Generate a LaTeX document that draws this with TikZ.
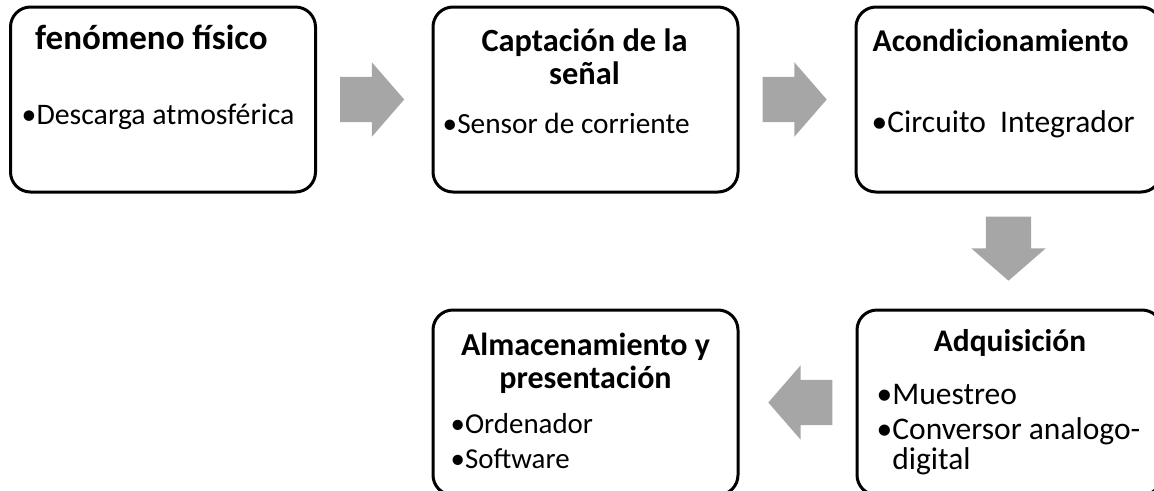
\documentclass[tikz,border=0pt]{standalone}
\usepackage{fontspec}
\setmainfont{Carlito}
\usetikzlibrary{shapes.arrows,calc}

\definecolor{arrowgray}{RGB}{166,166,166}

\tikzstyle{stage} = [rectangle, rounded corners=20pt, minimum width=305pt, minimum height=185pt, draw=black, line width=3pt]
\tikzstyle{blockarrow} = [single arrow, draw=none, fill=arrowgray, inner xsep=0pt, inner ysep=22.5pt, single arrow head extend=14.5pt, single arrow tip angle=98, minimum height=64pt, anchor=tail]
\tikzset{
  title/.style={font=\fontsize{#1}{33}\selectfont\bfseries, inner sep=0pt, anchor=base, align=center},
  title/.default=31,
  item/.style={font=\fontsize{#1}{30.5}\selectfont, inner sep=0pt, anchor=base west, align=left},
  item/.default=29
}

\begin{document}
\begin{tikzpicture}[x=1pt, y=-1pt]
  \useasboundingbox (0,0) rectangle (1154,490);

  % stages
  \node (fenomeno) [stage] at (163,99.5) {};
  \node (captacion) [stage] at (585.5,99.5) {};
  \node (acond) [stage] at (1008.5,99.5) {};
  \node (adquis) [stage] at (1009.5,402.5) {};
  \node (almac) [stage] at (585.5,402.5) {};

  % texts
  \node (fenomenot) [title=35] at ($(fenomeno.north)+(-11.5,44)$) {fenómeno físico};
  \node (fenomenoa) [item=29.8] at ($(fenomeno.north west)+(12.5,119)$) {•Descarga atmosférica};

  \node (captaciont) [title=32.4] at ($(captacion.north)+(-1,79)$) {Captación de la\\señal};
  \node (captaciona) [item=29.3] at ($(captacion.north west)+(11,128)$) {•Sensor de corriente};

  \node (acondt) [title=31.7] at ($(acond.north)+(-8,46)$) {Acondicionamiento};
  \node (aconda) [item=31.5] at ($(acond.north west)+(17,127)$) {•Circuito~ Integrador};

  \node (adquist) [title=31.4] at ($(adquis.north)+(0.5,43)$) {Adquisición};
  \node (adquisa) [item=31.5] at ($(adquis.north west)+(21,96)$) {•Muestreo};
  \node (adquisb) [item=31.5] at ($(adquis.north west)+(21,161)$) {•Conversor analogo-\\\hphantom{•}digital};

  \node (almact) [title=32] at ($(almac.north)+(0,80)$) {Almacenamiento y\\presentación};
  \node (almaca) [item=28.9] at ($(almac.north west)+(19,125)$) {•Ordenador};
  \node (almacb) [item=28.9] at ($(almac.north west)+(19,160)$) {•Software};

  % block arrows
  \node (arr1) [blockarrow] at ($(fenomeno.east)+(23,0)$) {};
  \node (arr2) [blockarrow] at ($(captacion.east)+(23,0)$) {};
  \node (arr3) [blockarrow, rotate=-90] at ($(acond.south)+(0,23)$) {};
  \node (arr4) [blockarrow, rotate=180] at ($(adquis.west)+(-23,0)$) {};
\end{tikzpicture}
\end{document}
